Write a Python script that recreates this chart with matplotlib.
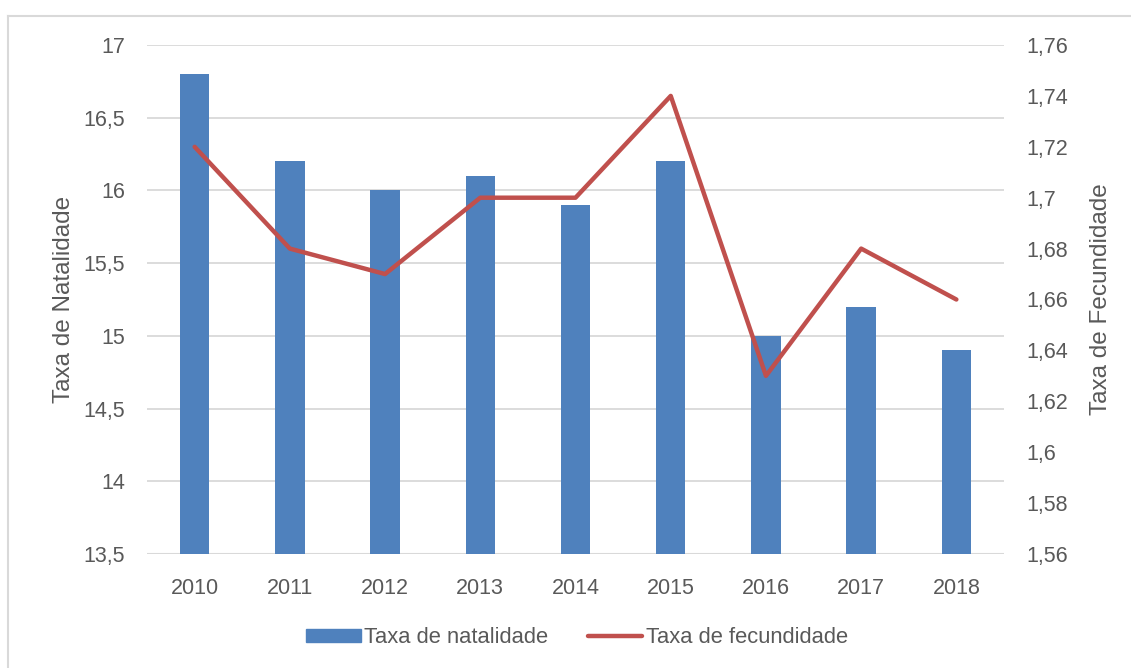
import matplotlib.pyplot as plt
from matplotlib.ticker import FuncFormatter, MultipleLocator
from matplotlib.lines import Line2D
from matplotlib.patches import Patch

anos = ['2010', '2011', '2012', '2013', '2014', '2015', '2016', '2017', '2018']
natalidade = [16.8, 16.2, 16.0, 16.1, 15.9, 16.2, 15.0, 15.2, 14.9]
fecundidade = [1.72, 1.68, 1.67, 1.70, 1.70, 1.74, 1.63, 1.68, 1.66]

azul = '#4F81BD'
vermelho = '#C0504D'
cinza = '#595959'
grelha = '#D9D9D9'

plt.rcParams['font.family'] = ['Liberation Sans', 'DejaVu Sans']


def virgula(v, pos):
    return '{:g}'.format(round(v, 4)).replace('.', ',')


fig = plt.figure(figsize=(11.31, 6.68), dpi=100)
ax = fig.add_axes([0.13, 0.1707, 0.7577, 0.7619])
ax2 = ax.twinx()

x = list(range(len(anos)))
ax.bar(x, natalidade, width=0.31, color=azul, zorder=3)
ax2.plot(x, fecundidade, color=vermelho, linewidth=3.2,
         solid_capstyle='round', solid_joinstyle='round', zorder=4)

ax.set_xlim(-0.5, len(anos) - 0.5)
ax.set_ylim(13.5, 17)
ax.yaxis.set_major_locator(MultipleLocator(0.5))
ax.yaxis.set_major_formatter(FuncFormatter(virgula))
ax.grid(axis='y', color=grelha, linewidth=1.3, zorder=0)
ax.set_axisbelow(True)

ax2.set_ylim(1.56, 1.76)
ax2.yaxis.set_major_locator(MultipleLocator(0.02))
ax2.yaxis.set_major_formatter(FuncFormatter(virgula))

ax.set_xticks(x)
ax.set_xticklabels(anos)

for a in (ax, ax2):
    for lado in ('top', 'left', 'right', 'bottom'):
        a.spines[lado].set_visible(False)
    a.tick_params(length=0, labelsize=15.5, labelcolor=cinza)
ax.axhline(13.5, color=grelha, linewidth=1.5, zorder=2)
ax.tick_params(axis='y', pad=16)
ax.tick_params(axis='x', pad=17)
ax2.tick_params(axis='y', pad=16)

ax.set_ylabel('Taxa de Natalidade', fontsize=17.5, color=cinza, labelpad=6)
ax2.set_ylabel('Taxa de Fecundidade', fontsize=17.5, color=cinza, labelpad=16)

# moldura do gráfico
fig.add_artist(Line2D([8 / 1131, 8 / 1131], [0, 1 - 16 / 668],
                      transform=fig.transFigure, color=grelha, linewidth=1.5))
fig.add_artist(Line2D([8 / 1131, 1], [1 - 16 / 668, 1 - 16 / 668],
                      transform=fig.transFigure, color=grelha, linewidth=1.5))

handles = [Patch(color=azul, label='Taxa de natalidade'),
           Line2D([], [], color=vermelho, linewidth=3.2, solid_capstyle='round',
                  label='Taxa de fecundidade')]
fig.legend(handles=handles, loc='center', bbox_to_anchor=(0.51, 0.045), ncol=2,
           frameon=False, fontsize=15.8, labelcolor=cinza, handlelength=2.5,
           handleheight=0.55, handletextpad=0.15, columnspacing=1.8)

fig.savefig('out.png', dpi=100)
